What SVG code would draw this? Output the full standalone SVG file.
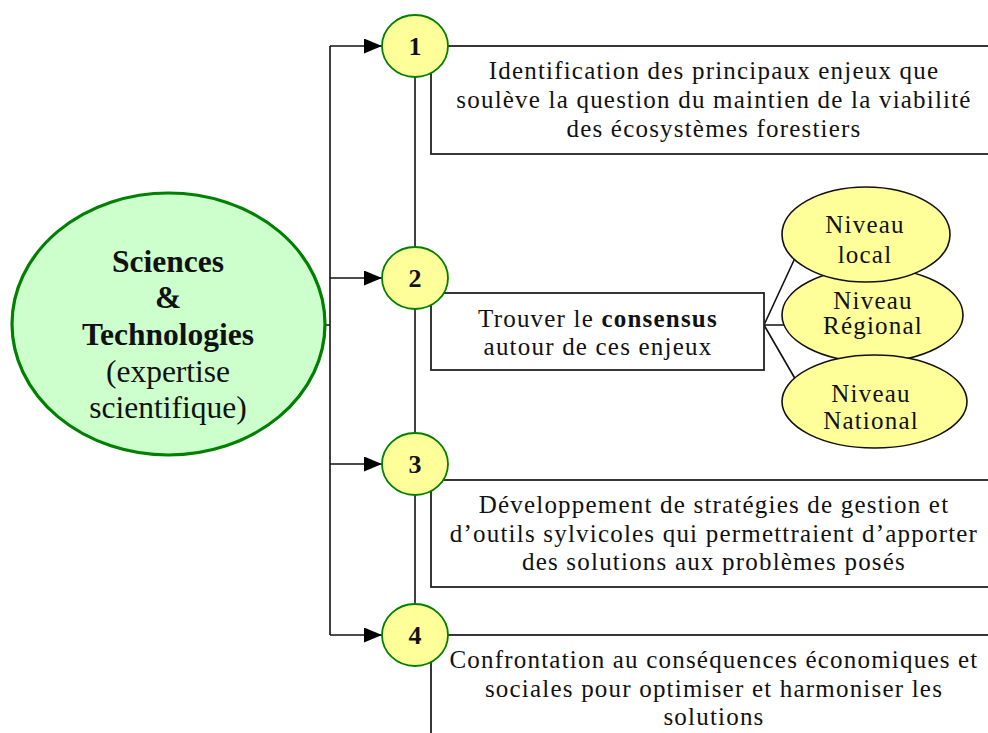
<svg xmlns="http://www.w3.org/2000/svg" width="988" height="733" viewBox="0 0 988 733">
<defs>
<marker id="arr" viewBox="0 0 18 15" refX="18" refY="7.5" markerWidth="18" markerHeight="15" markerUnits="userSpaceOnUse" orient="auto">
<path d="M0,0 L18,7.5 L0,15 Z" fill="#000"/>
</marker>
<style>
text{font-family:'Liberation Serif',Tinos,'Times New Roman',Times,serif}
.t{font-size:25px;letter-spacing:1.2px;fill:#111;text-anchor:middle}
.big{font-size:31.5px;fill:#111;text-anchor:middle}
.b{font-weight:bold}
.num{font-size:26px;font-weight:bold;fill:#111;text-anchor:middle}
.ln{stroke:#111;stroke-width:1.6;fill:none}
.box{stroke:#222;stroke-width:1.8;fill:#fff}
.sc{fill:#ffff99;stroke:#008000;stroke-width:1.8}
.el{fill:#ffff99;stroke:#111;stroke-width:1.6}
</style>
</defs>
<rect width="988" height="733" fill="#fff"/>

<g id="connectors">
<path class="ln" d="M330,46 V635 M325,325 H330 M415,46 V635"/>
<path class="ln" marker-end="url(#arr)" d="M330,46 H382"/>
<path class="ln" marker-end="url(#arr)" d="M330,278 H382"/>
<path class="ln" marker-end="url(#arr)" d="M330,464 H382"/>
<path class="ln" marker-end="url(#arr)" d="M330,635 H382"/>
<path class="ln" d="M764,325 L795,258 M764,325 H785 M764,325 L797,382"/>
</g>

<g id="box1" font-family="Liberation Serif, serif">
<rect class="box" x="431" y="46" width="600" height="108"/>
<text class="t" x="714" y="79">Identification des principaux enjeux que</text>
<text class="t" x="714" y="108">soulève la question du maintien de la viabilité</text>
<text class="t" x="714" y="137">des écosystèmes forestiers</text>
</g>

<g id="box2">
<rect class="box" x="431" y="293" width="333" height="77"/>
<text class="t" x="598" y="327">Trouver le <tspan class="b">consensus</tspan></text>
<text class="t" x="598" y="355">autour de ces enjeux</text>
</g>

<g id="box3">
<rect class="box" x="431" y="480" width="600" height="107"/>
<text class="t" x="714" y="513">Développement de stratégies de gestion et</text>
<text class="t" x="714" y="542">d’outils sylvicoles qui permettraient d’apporter</text>
<text class="t" x="714" y="570">des solutions aux problèmes posés</text>
</g>

<g id="box4">
<rect class="box" x="431" y="635" width="600" height="140"/>
<text class="t" x="714" y="668">Confrontation au conséquences économiques et</text>
<text class="t" x="714" y="697">sociales pour optimiser et harmoniser les</text>
<text class="t" x="714" y="725">solutions</text>
</g>

<g id="sciences">
<ellipse cx="168.5" cy="324" rx="156.5" ry="131" fill="#ccffcc" stroke="#008000" stroke-width="3.2"/>
<text class="big b" x="168" y="272">Sciences</text>
<text class="big b" x="168" y="308">&amp;</text>
<text class="big b" x="168" y="345">Technologies</text>
<text class="big" x="168" y="382">(expertise</text>
<text class="big" x="168" y="418">scientifique)</text>
</g>

<g id="step1">
<ellipse class="sc" cx="415" cy="46" rx="33" ry="31"/>
<text class="num" x="415" y="55">1</text>
</g>
<g id="step2">
<ellipse class="sc" cx="415" cy="278" rx="33" ry="31"/>
<text class="num" x="415" y="287">2</text>
</g>
<g id="step3">
<ellipse class="sc" cx="415" cy="464" rx="33" ry="31"/>
<text class="num" x="415" y="473">3</text>
</g>
<g id="step4">
<ellipse class="sc" cx="415" cy="635" rx="33" ry="31"/>
<text class="num" x="415" y="644">4</text>
</g>

<g id="regional">
<ellipse class="el" cx="872.5" cy="315" rx="90.5" ry="47"/>
<text class="t" x="873" y="309">Niveau</text>
<text class="t" x="873" y="334">Régional</text>
</g>
<g id="local">
<ellipse class="el" cx="866" cy="234.5" rx="84" ry="47.5"/>
<text class="t" x="865" y="233">Niveau</text>
<text class="t" x="865" y="263">local</text>
</g>
<g id="national">
<ellipse class="el" cx="874.5" cy="401.5" rx="92.5" ry="46.5"/>
<text class="t" x="871" y="402">Niveau</text>
<text class="t" x="871" y="429">National</text>
</g>
</svg>
